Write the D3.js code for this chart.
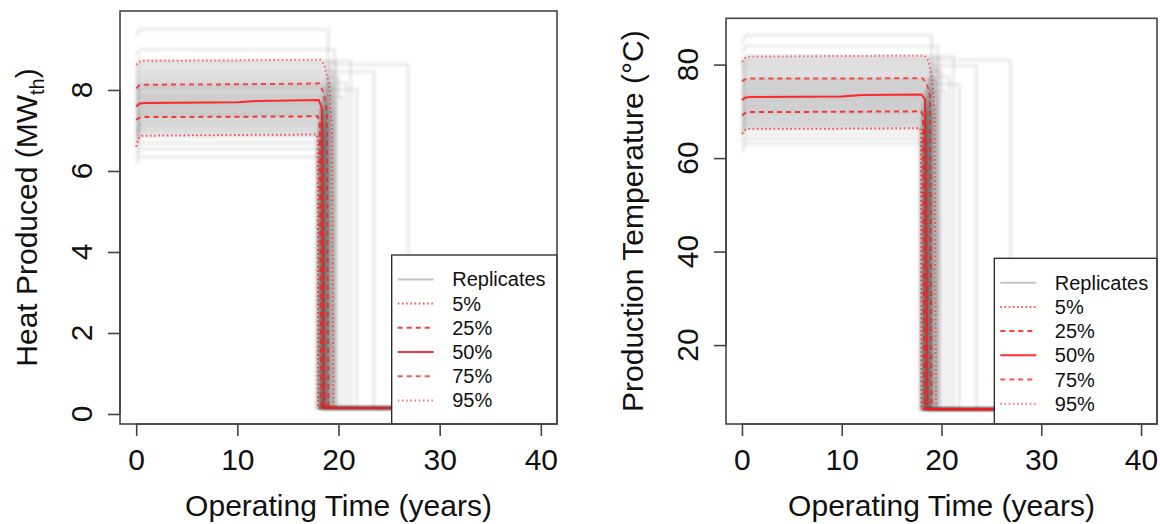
<!DOCTYPE html>
<html><head><meta charset="utf-8">
<script src="https://cdn.jsdelivr.net/npm/d3@7"></script>
<style>
body{margin:0;background:#fff}
text{font-family:"Liberation Sans",Arial,Helvetica,sans-serif;fill:#111}
</style>
</head><body>
<svg id="c" width="1160" height="524"></svg>
<script>
// ---------------- DATA ----------------
const xTicks = [0, 10, 20, 30, 40];
const heatTicks = [0, 2, 4, 6, 8];
const tempTicks = [20, 40, 60, 80];
const legendLabels = ["Replicates", "5%", "25%", "50%", "75%", "95%"];

// replicate lifetimes (years until the production collapses)
const replicateLife = [18.1,17.9,18.4,18.0,18.2,18.6,17.8,18.3,18.5,18.1,18.9,18.2,18.4,18.0,18.7,18.3,
  19.1,18.5,18.2,18.6,18.4,19.4,18.3,18.8,18.5,18.1,19.0,18.6,18.4,19.7,18.5,
  18.3,18.9,18.7,20.4,18.5,19.2,18.4,18.8,18.6,21.8,19.0,18.7,19.5,18.9,19.3,
  20.8,18.8,19.1,20.0,19.6,18.9,23.5,19.4,19.2,26.9,19.8,21.2,19.6,19.0];

// heat produced (MWth): initial value and plateau value of each replicate
const heatStart = [6.15,6.30,6.42,6.58,6.66,6.72,6.78,6.82,6.86,6.90,6.93,6.98,7.02,7.06,7.10,7.15,
  7.20,7.24,7.26,7.30,7.33,7.37,7.40,7.43,7.46,7.49,7.52,7.55,7.57,7.60,7.62,
  7.65,7.68,7.71,7.74,7.77,7.80,7.83,7.86,7.89,7.92,7.95,7.97,8.00,8.03,8.05,
  8.09,8.12,8.16,8.20,8.25,8.30,8.35,8.40,8.45,8.51,8.57,8.62,8.85,9.35];
const heatPlateau = [6.35,6.55,6.70,6.85,6.92,6.96,7.00,7.04,7.08,7.12,7.15,7.19,7.22,7.26,7.29,7.33,
  7.36,7.38,7.41,7.44,7.46,7.49,7.52,7.54,7.57,7.60,7.62,7.65,7.67,7.70,7.72,
  7.75,7.78,7.81,7.84,7.86,7.89,7.92,7.95,7.98,8.01,8.04,8.06,8.09,8.12,8.14,
  8.18,8.22,8.26,8.30,8.35,8.40,8.45,8.50,8.56,8.62,8.68,8.73,9.00,9.50];
const heatAfter = 0.15;

// production temperature (°C)
const tempStart = [61.3,62.5,63.6,64.7,65.3,65.6,65.9,66.3,66.6,66.9,67.2,67.6,67.9,68.2,68.5,68.8,
  69.1,69.4,69.6,69.9,70.2,70.4,70.7,71.0,71.2,71.5,71.7,72.0,72.2,72.4,72.6,
  72.9,73.1,73.4,73.6,73.9,74.1,74.4,74.6,74.9,75.1,75.4,75.6,75.9,76.1,76.4,
  76.7,77.0,77.4,77.7,78.0,78.4,78.7,79.1,79.4,79.8,80.1,80.5,82.5,84.6];
const tempPlateau = [63.1,64.2,65.2,66.1,66.6,66.9,67.2,67.5,67.8,68.1,68.4,68.7,69.0,69.3,69.6,69.8,
  70.0,70.3,70.5,70.8,71.0,71.3,71.5,71.8,72.0,72.3,72.5,72.8,73.0,73.2,73.3,
  73.6,73.8,74.1,74.3,74.6,74.8,75.1,75.3,75.6,75.8,76.1,76.3,76.6,76.8,77.0,
  77.4,77.8,78.2,78.6,79.0,79.4,79.8,80.2,80.6,81.0,81.4,81.8,84.0,86.3];
const tempAfter = 6.3;

// percentile curves [year, value]
const heatQ05 = [[0,6.60],[0.2,6.80],[0.6,6.87],[10,6.89],[17.85,6.90],[17.95,6.75],[18.0,0.15],[40,0.15]];
const heatQ25 = [[0,7.26],[0.2,7.30],[0.6,7.33],[10,7.34],[17.95,7.35],[18.15,7.15],[18.3,0.15],[40,0.15]];
const heatQ50 = [[0,7.59],[0.3,7.66],[0.8,7.68],[10,7.70],[12,7.73],[18.05,7.75],[18.35,7.55],[18.6,0.15],[40,0.15]];
const heatQ75 = [[0,8.04],[0.3,8.11],[0.8,8.13],[10,8.14],[18.1,8.16],[18.5,7.95],[18.85,7.5],[19.0,0.15],[40,0.15]];
const heatQ95 = [[0,8.62],[0.3,8.70],[0.8,8.72],[10,8.73],[18.2,8.75],[18.6,8.62],[19.1,8.10],[19.35,7.0],[19.5,0.15],[40,0.15]];

const tempQ05 = [[0,65.2],[0.3,66.0],[0.8,66.3],[10,66.3],[17.85,66.4],[17.95,65.5],[18.0,6.3],[40,6.3]];
const tempQ25 = [[0,69.1],[0.3,69.6],[0.8,69.85],[10,69.9],[17.95,70.0],[18.15,69.0],[18.3,6.3],[40,6.3]];
const tempQ50 = [[0,72.35],[0.3,72.9],[0.8,73.05],[10,73.15],[12,73.5],[18.0,73.6],[18.35,72.5],[18.6,6.3],[40,6.3]];
const tempQ75 = [[0,76.4],[0.3,76.85],[0.8,77.0],[10,77.0],[18.1,77.1],[18.5,76.0],[18.85,73.5],[19.0,6.3],[40,6.3]];
const tempQ95 = [[0,80.6],[0.3,81.4],[0.8,81.7],[10,81.84],[18.3,81.9],[18.7,80.8],[19.1,76.6],[19.3,70.0],[19.45,6.3],[40,6.3]];

// ---------------- DRAWING ----------------
const svg = d3.select("#c");
const defs = svg.append("defs");
defs.append("filter").attr("id", "soft").attr("x", "-5%").attr("y", "-5%").attr("width", "110%").attr("height", "110%")
  .append("feGaussianBlur").attr("stdDeviation", 0.9);
const RED = "#ff1a1a";
const qStyles = [
  {dash:"1.6,2.6", w:2, op:0.75},
  {dash:"5,4", w:2, op:0.85},
  {dash:null, w:2, op:0.9},
  {dash:"5,4", w:2, op:0.75},
  {dash:"1.6,2.6", w:2, op:0.6}
];

const panels = [
  {box:{l:120, r:557, t:11, b:424}, ydom:[-0.247, 9.95], yTicks:heatTicks,
   start:heatStart, plateau:heatPlateau, after:heatAfter,
   quant:[heatQ05, heatQ25, heatQ50, heatQ75, heatQ95],
   tickLabelX:92, titleX:37, legend:{l:391.7, t:255}, ytitle:"heat"},
  {box:{l:726, r:1157, t:18.3, b:424}, ydom:[3.12, 89.9], yTicks:tempTicks,
   start:tempStart, plateau:tempPlateau, after:tempAfter,
   quant:[tempQ05, tempQ25, tempQ50, tempQ75, tempQ95],
   tickLabelX:698, titleX:643, legend:{l:994.3, t:258.3}, ytitle:"temp"}
];

panels.forEach((p, pi) => {
  const B = p.box;
  const x = d3.scaleLinear().domain([-1.6, 41.6]).range([B.l, B.r]);
  const y = d3.scaleLinear().domain(p.ydom).range([B.b, B.t]);
  const g = svg.append("g");
  const clipId = "clip" + pi;
  defs.append("clipPath").attr("id", clipId).append("rect")
    .attr("x", B.l).attr("y", B.t).attr("width", B.r - B.l).attr("height", B.b - B.t);
  const plot = g.append("g").attr("clip-path", `url(#${clipId})`);
  const line = d3.line().x(d => x(d[0])).y(d => y(d[1]));

  // replicates
  const reps = p.plateau.map((v, i) => [[0, p.start[i]], [0.4, v], [replicateLife[i], v], [replicateLife[i], p.after], [40, p.after]]);
  plot.append("g").attr("filter", "url(#soft)")
    .selectAll("path.rep").data(reps).join("path").attr("class", "rep")
    .attr("d", line).attr("fill", "none").attr("stroke", "#3c3c3c")
    .attr("stroke-width", 3).attr("stroke-opacity", 0.1);

  // percentile curves
  p.quant.forEach((q, qi) => {
    const s = qStyles[qi];
    plot.append("path").datum(q).attr("d", line).attr("fill", "none")
      .attr("stroke", RED).attr("stroke-width", s.w).attr("stroke-opacity", s.op)
      .attr("stroke-dasharray", s.dash);
  });

  // legend
  const L = p.legend;
  const lg = g.append("g");
  lg.append("rect").attr("x", L.l).attr("y", L.t).attr("width", B.r - L.l).attr("height", B.b - L.t)
    .attr("fill", "#fff").attr("stroke", "#222").attr("stroke-width", 1.3);
  legendLabels.forEach((lab, i) => {
    const cy = L.t + 24.4 + i * 24.2;
    const ln = lg.append("line").attr("x1", L.l + 6).attr("x2", L.l + 42).attr("y1", cy).attr("y2", cy);
    if (i === 0) ln.attr("stroke", "#c4c4c4").attr("stroke-width", 2);
    else {
      const s = qStyles[i - 1];
      ln.attr("stroke", RED).attr("stroke-width", s.w).attr("stroke-opacity", s.op).attr("stroke-dasharray", s.dash);
    }
    lg.append("text").attr("x", L.l + 60.5).attr("y", cy + 7).attr("font-size", 20).attr("fill", "#111").text(lab);
  });

  // box
  g.append("rect").attr("x", B.l).attr("y", B.t).attr("width", B.r - B.l).attr("height", B.b - B.t)
    .attr("fill", "none").attr("stroke", "#444").attr("stroke-width", 1.6);

  // x axis
  const xa = g.append("g").attr("transform", `translate(0,${B.b})`)
    .call(d3.axisBottom(x).tickValues(xTicks).tickSize(12).tickFormat(d3.format("d")));
  xa.select(".domain").attr("stroke", "#444").attr("stroke-width", 1.6)
    .attr("d", `M${x(xTicks[0])},0H${x(xTicks[xTicks.length-1])}`);
  xa.selectAll(".tick line").attr("stroke", "#444").attr("stroke-width", 1.6);
  xa.selectAll(".tick text").attr("font-size", 30).attr("fill", "#111")
    .attr("font-family", '"Liberation Sans",Arial,sans-serif').attr("dy", null).attr("y", 46);

  // y axis
  const ya = g.append("g").attr("transform", `translate(${B.l},0)`)
    .call(d3.axisLeft(y).tickValues(p.yTicks).tickSize(12).tickFormat(d3.format("d")));
  ya.select(".domain").attr("stroke", "#444").attr("stroke-width", 1.6)
    .attr("d", `M0,${y(p.yTicks[0])}V${y(p.yTicks[p.yTicks.length-1])}`);
  ya.selectAll(".tick line").attr("stroke", "#444").attr("stroke-width", 1.6);
  ya.selectAll(".tick text").remove();
  g.selectAll("text.ytl").data(p.yTicks).join("text").attr("class", "ytl")
    .attr("transform", d => `translate(${p.tickLabelX},${y(d)}) rotate(-90)`)
    .attr("text-anchor", "middle").attr("font-size", 30).text(d => d);

  // titles
  g.append("text").attr("x", (B.l + B.r) / 2).attr("y", 516).attr("text-anchor", "middle")
    .attr("font-size", 30).text("Operating Time (years)");
  const yt = g.append("text").attr("transform", `translate(${p.titleX},${(B.t + B.b) / 2}) rotate(-90)`)
    .attr("text-anchor", "middle").attr("font-size", 30);
  if (p.ytitle === "heat") {
    yt.append("tspan").text("Heat Produced (MW");
    yt.append("tspan").attr("font-size", 20).attr("dy", 7).text("th");
    yt.append("tspan").attr("dy", -7).text(")");
  } else {
    yt.text("Production Temperature (°C)");
  }
});
</script>
</body></html>
